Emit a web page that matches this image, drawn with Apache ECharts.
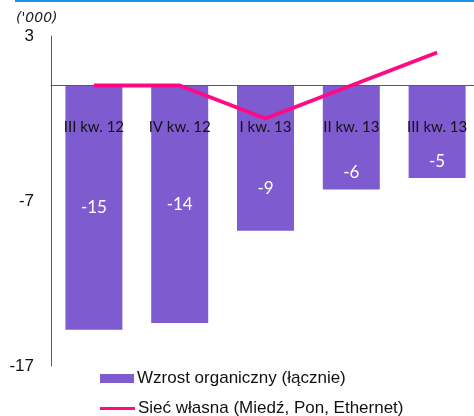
<!DOCTYPE html>
<html>
<head>
<meta charset="utf-8">
<script src="https://cdn.jsdelivr.net/npm/echarts@6/dist/echarts.min.js"></script>
<style>
html, body { margin: 0; padding: 0; background: #fff; }
#chart01 { width: 474px; height: 416px; }
</style>
</head>
<body>
<div id="chart01"></div>
<script>
// dane wykresu
var kwartaly = ["III kw. 12", "IV kw. 12", "I kw. 13", "II kw. 13", "III kw. 13"];
var wzrost = [-14.8, -14.4, -8.8, -6.3, -5.6];
var wzrostEtykiety = ["-15", "-14", "-9", "-6", "-5"];
var siecWlasna = [0, 0, -2, 0, 2];
var osYWartosci = [-17, -7, 3];

// położenie etykiet słupków (jak w oryginale)
var etykietyPoz = [
    { position: "inside" },
    { position: "inside" },
    { position: "insideBottom", distance: 34 },
    { position: "insideBottom", distance: 8 },
    { position: "insideBottom", distance: 8 }
];

var legendaTekst = { fontFamily: "Liberation Sans", fontSize: 17, color: "#111", padding: [0, 0, 0, -2] };

var myChart01 = echarts.init(document.getElementById('chart01'));
var option = {
    animation: false,
    graphic: [
        {
            type: "rect",
            shape: { x: 15, y: 0, width: 459, height: 2 },
            style: { fill: "#1a93ec" }
        },
        {
            type: "text",
            left: 16, top: 11,
            style: { text: "('000)", font: "italic 14px 'DejaVu Sans'", fill: "#222" }
        }
    ],
    grid: {
        left: 51,
        right: -6,
        top: 36,
        bottom: 50,
        outerBoundsMode: "none",
        containLabel: false
    },
    legend: [
        {
            data: ["Wzrost organiczny (łącznie)"],
            left: 95,
            top: 365,
            icon: "rect",
            itemWidth: 34,
            itemHeight: 9,
            textStyle: legendaTekst
        },
        {
            data: ["Sieć własna (Miedź, Pon, Ethernet)"],
            left: 95,
            top: 395,
            icon: "rect",
            itemWidth: 35,
            itemHeight: 3,
            textStyle: legendaTekst
        }
    ],
    xAxis: {
        type: "category",
        data: kwartaly,
        offset: -280.5,
        z: 10,
        axisLine: { onZero: false, lineStyle: { color: "#595959", width: 1 } },
        axisTick: { show: false },
        axisLabel: {
            margin: 34,
            fontFamily: "Lato",
            fontSize: 15,
            color: "#111"
        }
    },
    yAxis: {
        type: "value",
        min: -17,
        max: 3,
        interval: 10,
        splitLine: { show: false },
        axisLine: { show: true, lineStyle: { color: "#595959", width: 1 } },
        axisTick: { show: false },
        axisLabel: {
            customValues: osYWartosci,
            margin: 17,
            fontFamily: "Liberation Sans",
            fontSize: 17,
            color: "#111"
        }
    },
    series: [
        {
            name: "Wzrost organiczny (łącznie)",
            type: "bar",
            barWidth: 57,
            itemStyle: { color: "#7e5ccf" },
            data: wzrost.map(function (v, i) {
                return {
                    value: v,
                    label: Object.assign({
                        show: true,
                        color: "#fff",
                        fontFamily: "Lato",
                        fontSize: 17,
                        formatter: wzrostEtykiety[i]
                    }, etykietyPoz[i])
                };
            })
        },
        {
            name: "Sieć własna (Miedź, Pon, Ethernet)",
            type: "line",
            symbol: "none",
            lineStyle: { color: "#ff0a85", width: 4 },
            itemStyle: { color: "#ff0a85" },
            data: siecWlasna,
            z: 5
        }
    ]
};
myChart01.setOption(option);
</script>
</body>
</html>
